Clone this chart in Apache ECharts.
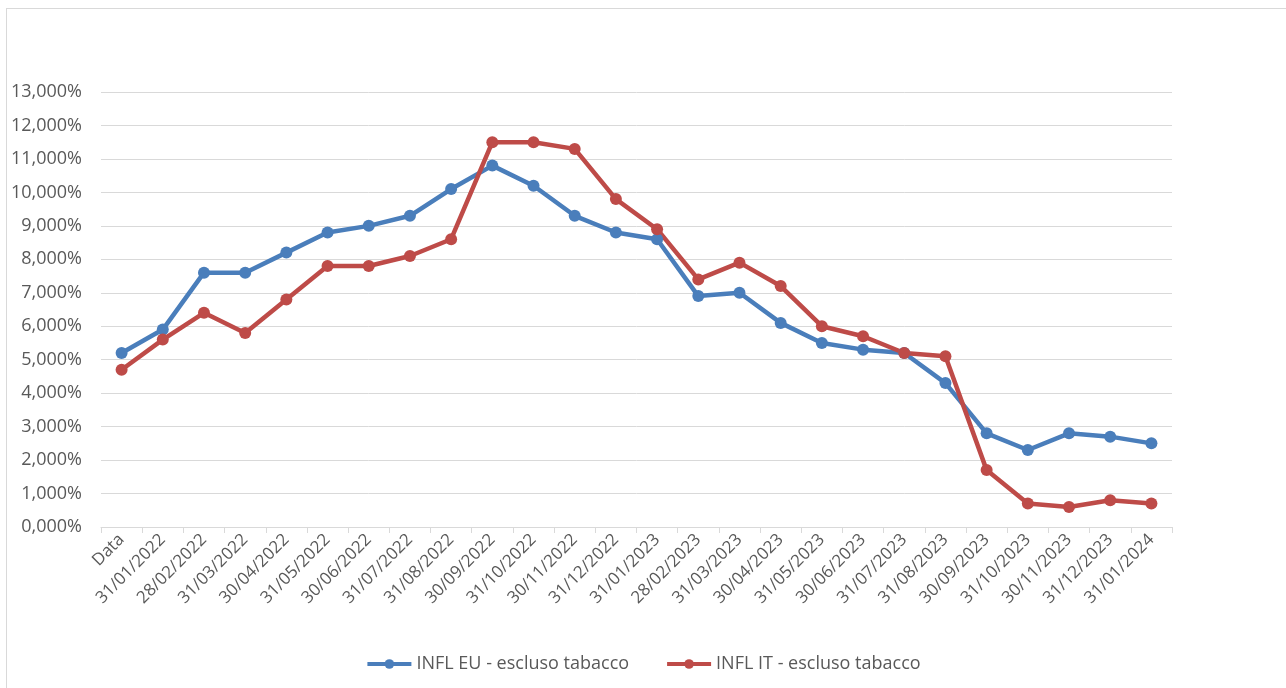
<!DOCTYPE html>
<html>
<head>
<meta charset="utf-8">
<script src="https://cdn.jsdelivr.net/npm/echarts@6/dist/echarts.min.js"></script>
<style>
  html, body { margin: 0; padding: 0; background: #fff; overflow: hidden; }
  #frame { position: absolute; left: 6px; top: 8px; width: 1300px; height: 700px; border: 1px solid #d9d9d9; }
  #chart { position: absolute; left: 0; top: 0; width: 1286px; height: 688px; }
</style>
</head>
<body>
<div id="frame"></div>
<div id="chart"></div>
<script>
// categorie asse x
const dates = ['Data', '31/01/2022', '28/02/2022', '31/03/2022', '30/04/2022', '31/05/2022',
  '30/06/2022', '31/07/2022', '31/08/2022', '30/09/2022', '31/10/2022', '30/11/2022',
  '31/12/2022', '31/01/2023', '28/02/2023', '31/03/2023', '30/04/2023', '31/05/2023',
  '30/06/2023', '31/07/2023', '31/08/2023', '30/09/2023', '31/10/2023', '30/11/2023',
  '31/12/2023', '31/01/2024'];

// valori in %
const inflEU = [5.2, 5.9, 7.6, 7.6, 8.2, 8.8, 9.0, 9.3, 10.1, 10.8, 10.2, 9.3, 8.8, 8.6,
  6.9, 7.0, 6.1, 5.5, 5.3, 5.2, 4.3, 2.8, 2.3, 2.8, 2.7, 2.5];
const inflIT = [4.7, 5.6, 6.4, 5.8, 6.8, 7.8, 7.8, 8.1, 8.6, 11.5, 11.5, 11.3, 9.8, 8.9,
  7.4, 7.9, 7.2, 6.0, 5.7, 5.2, 5.1, 1.7, 0.7, 0.6, 0.8, 0.7];

const seriesNames = ['INFL EU - escluso tabacco', 'INFL IT - escluso tabacco'];

const myChart = echarts.init(document.getElementById('chart'));

const fontFam = '"Open Sans", "Liberation Sans", sans-serif';

const option = {
  animation: false,
  grid: { left: 101, right: 114, top: 92, bottom: 161 },
  legend: {
    bottom: 10,
    left: 'center',
    itemWidth: 44,
    itemHeight: 12,
    itemGap: 36,
    lineStyle: { width: 4 },
    textStyle: { color: '#595959', fontSize: 18, fontFamily: fontFam },
    data: seriesNames
  },
  xAxis: {
    type: 'category',
    data: dates,
    boundaryGap: true,
    axisLine: { lineStyle: { color: '#d9d9d9', width: 1 } },
    axisTick: { show: true, length: 6, lineStyle: { color: '#d9d9d9' } },
    axisLabel: {
      interval: 0,
      rotate: 45,
      color: '#595959',
      fontSize: 17,
      fontFamily: fontFam,
      margin: 10
    }
  },
  yAxis: {
    type: 'value',
    min: 0,
    max: 13,
    interval: 1,
    axisLine: { show: false },
    axisTick: { show: false },
    splitLine: { lineStyle: { color: '#d9d9d9', width: 1 } },
    axisLabel: {
      color: '#595959',
      fontSize: 18,
      fontFamily: fontFam,
      margin: 19,
      formatter: v => v.toFixed(3).replace('.', ',') + '%'
    }
  },
  series: [
    {
      name: seriesNames[0],
      type: 'line',
      data: inflEU,
      symbol: 'circle',
      symbolSize: 12,
      itemStyle: { color: '#4a7ebb' },
      lineStyle: { color: '#4a7ebb', width: 4.5 }
    },
    {
      name: seriesNames[1],
      type: 'line',
      data: inflIT,
      symbol: 'circle',
      symbolSize: 12,
      itemStyle: { color: '#be4b48' },
      lineStyle: { color: '#be4b48', width: 4.5 }
    }
  ]
};

myChart.setOption(option);
</script>
</body>
</html>
